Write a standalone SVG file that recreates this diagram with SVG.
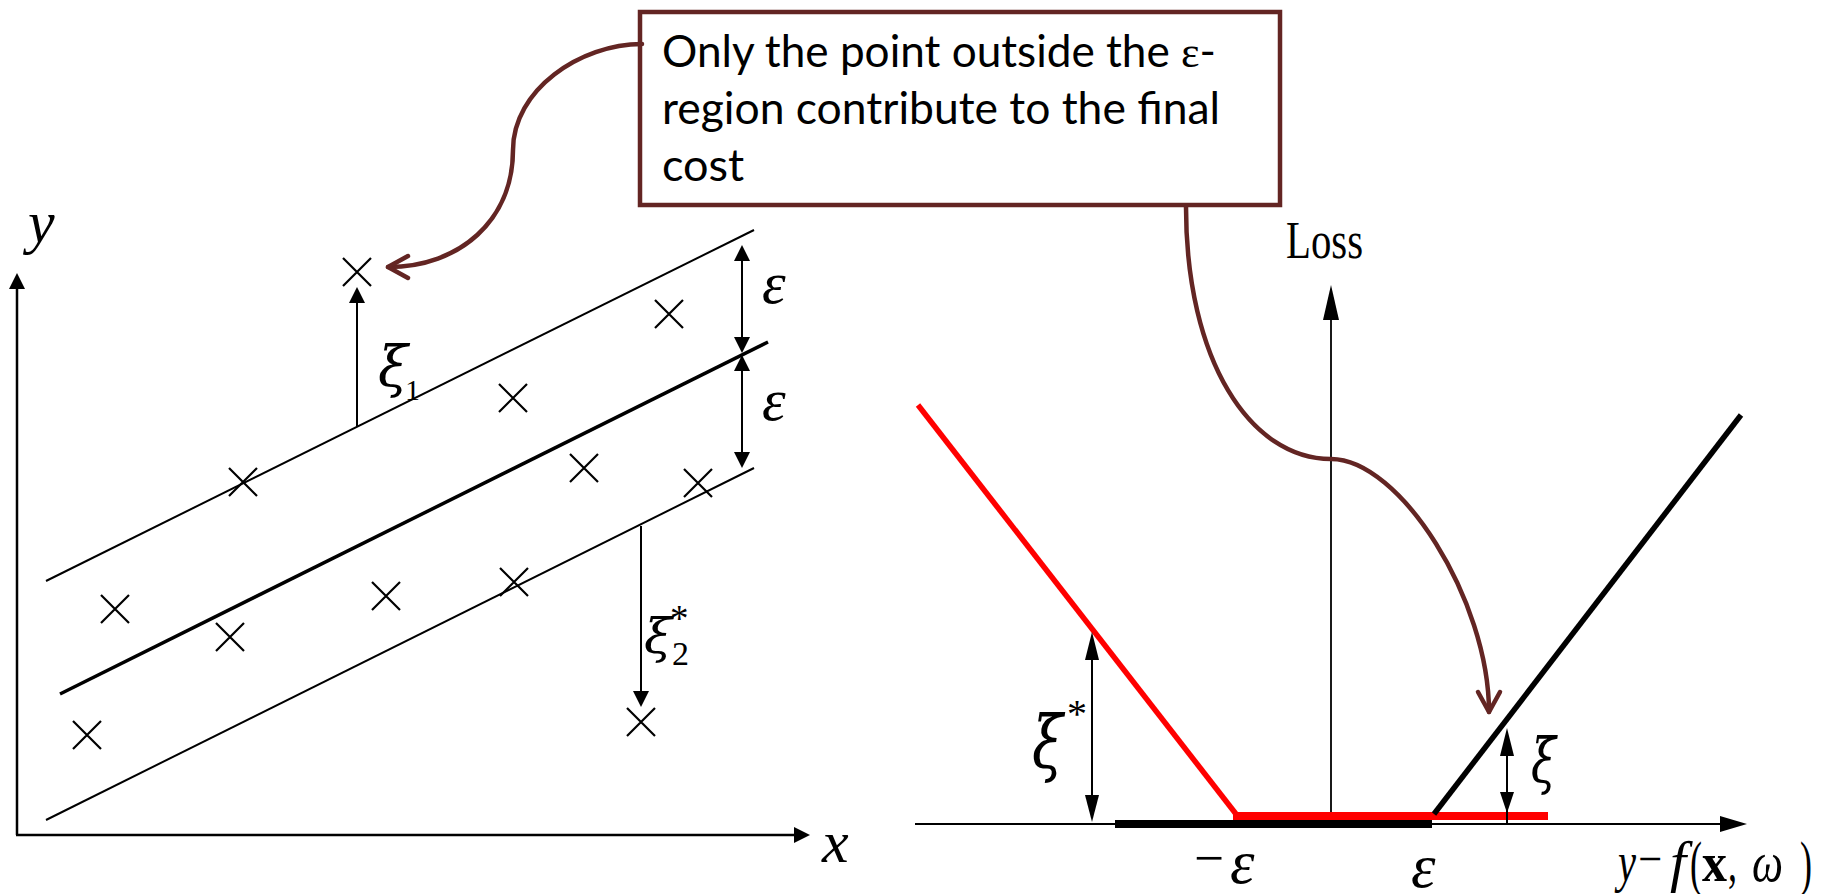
<svg xmlns="http://www.w3.org/2000/svg" width="1825" height="894" viewBox="0 0 1825 894">
  <style>
    .ax { stroke: #000; stroke-width: 2.5; fill: none; }
    .thin { stroke: #000; stroke-width: 2; fill: none; }
    .mid { stroke: #000; stroke-width: 3.5; fill: none; }
    .cross { stroke: #000; stroke-width: 2.2; fill: none; }
    .arr { stroke: #000; stroke-width: 2; fill: none; }
    .ah { fill: #000; stroke: none; }
    .math { font-family: "Liberation Serif", "DejaVu Serif", serif; font-style: italic; fill: #000; }
    .xi { font-family: "DejaVu Serif", "Liberation Serif", serif; font-style: italic; fill: #000; }
    .up { font-family: "Liberation Serif", "DejaVu Serif", serif; font-style: normal; fill: #000; }
    .callout { fill: #fff; stroke: #632523; stroke-width: 4.5; }
    .ctext { font-family: "Lato", "Liberation Sans", sans-serif; font-size: 45px; fill: #000; }
    .conn { fill: none; stroke: #632523; stroke-width: 4.5; stroke-linecap: round; }
    .red { stroke: #ff0000; fill: none; }
    .blk { stroke: #000; fill: none; }
  </style>
  <defs>
    <marker id="chev" markerUnits="userSpaceOnUse" viewBox="-26 -15 30 30" refX="0" refY="0" markerWidth="30" markerHeight="30" orient="auto" overflow="visible">
      <path d="M-20,-11 L0,0 L-20,11" fill="none" stroke="#632523" stroke-width="4.5" stroke-linecap="round" stroke-linejoin="round"/>
    </marker>
    <path id="xm" d="M-14,-14 L14,14 M-14,14 L14,-14"/>
  </defs>

  <!-- Left plot -->
  <g id="left-plot">
    <line class="ax" x1="17" y1="835" x2="17" y2="285"/>
    <polygon class="ah" points="17,273 9,289 25,289"/>
    <line class="ax" x1="16" y1="835" x2="797" y2="835"/>
    <polygon class="ah" points="810,835 794,827 794,843"/>
    <text class="math" x="28" y="242" font-size="60">y</text>
    <text class="math" x="822" y="862" font-size="60">x</text>

    <line class="thin" x1="46" y1="581" x2="754" y2="230"/>
    <line class="mid" x1="60" y1="694" x2="768" y2="342"/>
    <line class="thin" x1="46" y1="820" x2="754" y2="468"/>

    <g class="cross">
      <use href="#xm" x="357" y="272"/>
      <use href="#xm" x="669" y="314"/>
      <use href="#xm" x="513" y="398"/>
      <use href="#xm" x="584" y="468"/>
      <use href="#xm" x="698" y="483"/>
      <use href="#xm" x="243" y="482"/>
      <use href="#xm" x="115" y="609"/>
      <use href="#xm" x="230" y="637"/>
      <use href="#xm" x="386" y="596"/>
      <use href="#xm" x="514" y="582"/>
      <use href="#xm" x="87" y="735"/>
      <use href="#xm" x="641" y="722"/>
    </g>

    <!-- xi1 arrow -->
    <line class="arr" x1="357" y1="427" x2="357" y2="300"/>
    <polygon class="ah" points="357,287 349,303 365,303"/>
    <text class="xi" x="378" y="386" font-size="56" textLength="30" lengthAdjust="spacingAndGlyphs">ξ</text>
    <text class="up" x="405" y="400" font-size="30">1</text>

    <!-- xi2* arrow -->
    <line class="arr" x1="641" y1="526" x2="641" y2="694"/>
    <polygon class="ah" points="641,707 633,691 649,691"/>
    <text class="xi" x="644" y="653" font-size="48" textLength="28" lengthAdjust="spacingAndGlyphs">ξ</text>
    <text class="up" x="672" y="665" font-size="34">2</text>
    <text class="up" x="670" y="631" font-size="37">*</text>

    <!-- epsilon double arrows -->
    <line class="arr" x1="742" y1="258" x2="742" y2="340"/>
    <polygon class="ah" points="742,245 734,261 750,261"/>
    <polygon class="ah" points="742,353 734,337 750,337"/>
    <line class="arr" x1="742" y1="368" x2="742" y2="455"/>
    <polygon class="ah" points="742,355 734,371 750,371"/>
    <polygon class="ah" points="742,468 734,452 750,452"/>
    <text class="math" x="762" y="303" font-size="60">ε</text>
    <text class="math" x="762" y="420" font-size="60">ε</text>
  </g>

  <!-- Right plot -->
  <g id="right-plot">
    <line class="blk" stroke-width="1.8" x1="1331" y1="824" x2="1331" y2="305"/>
    <polygon class="ah" points="1331,285 1323,320 1339,320"/>
    <text class="up" x="1286" y="258" font-size="52" textLength="77" lengthAdjust="spacingAndGlyphs">Loss</text>

    <line class="blk" stroke-width="2" x1="915" y1="824" x2="1725" y2="824"/>
    <polygon class="ah" points="1747,824 1720,816 1720,832"/>

    <line class="blk" stroke-width="8" x1="1115" y1="824" x2="1432" y2="824"/>
    <line class="red" stroke-width="8" x1="1233" y1="816" x2="1548" y2="816"/>
    <line class="red" stroke-width="5.5" x1="918" y1="405" x2="1236" y2="814"/>
    <line class="blk" stroke-width="5.5" x1="1434" y1="814" x2="1741" y2="415"/>

    <!-- xi* arrow -->
    <line class="arr" stroke-width="1.6" x1="1092" y1="650" x2="1092" y2="805"/>
    <polygon class="ah" points="1092,632 1085,660 1099,660"/>
    <polygon class="ah" points="1092,822 1085,795 1099,795"/>
    <text class="xi" x="1032" y="768" font-size="72" textLength="31" lengthAdjust="spacingAndGlyphs">ξ</text>
    <text class="up" x="1067" y="727" font-size="40">*</text>

    <!-- xi arrow -->
    <line class="arr" stroke-width="1.6" x1="1507" y1="745" x2="1507" y2="824"/>
    <polygon class="ah" points="1507,728 1500,756 1514,756"/>
    <polygon class="ah" points="1507,813 1500,792 1514,792"/>
    <text class="xi" x="1531" y="782" font-size="62" textLength="25" lengthAdjust="spacingAndGlyphs">ξ</text>

    <!-- axis labels -->
    <text class="up" x="1194" y="876" font-size="54" textLength="30" lengthAdjust="spacingAndGlyphs">−</text>
    <text class="math" x="1230" y="883" font-size="62">ε</text>
    <text class="math" x="1411" y="887" font-size="62">ε</text>

    <text class="math" x="1618" y="881" font-size="56" textLength="18" lengthAdjust="spacingAndGlyphs">y</text>
    <text class="up" x="1638" y="875" font-size="48" textLength="24" lengthAdjust="spacingAndGlyphs">−</text>
    <text class="math" x="1670" y="881" font-size="58">f</text>
    <text class="up" x="1690" y="884" font-size="62" textLength="12" lengthAdjust="spacingAndGlyphs">(</text>
    <text class="up" x="1702" y="881" font-size="54" font-weight="bold" textLength="25" lengthAdjust="spacingAndGlyphs">x</text>
    <text class="up" x="1728" y="881" font-size="54" textLength="9" lengthAdjust="spacingAndGlyphs">,</text>
    <text class="math" x="1752" y="881" font-size="56" textLength="31" lengthAdjust="spacingAndGlyphs">ω</text>
    <text class="up" x="1800" y="884" font-size="62" textLength="12" lengthAdjust="spacingAndGlyphs">)</text>
  </g>

  <!-- Callout -->
  <g id="callout">
    <rect class="callout" x="640" y="12" width="640" height="193"/>
    <text class="ctext" x="662" y="67" textLength="554" lengthAdjust="spacingAndGlyphs">Only the point outside the <tspan font-family="Liberation Serif, serif">ε</tspan>-</text>
    <text class="ctext" x="662" y="124" textLength="558" lengthAdjust="spacingAndGlyphs">region contribute to the final</text>
    <text class="ctext" x="662" y="181">cost</text>
  </g>

  <!-- Connectors -->
  <g id="connectors">
    <path class="conn" d="M642,44 C580,44 513,90 513,150 C513,220 460,267 388,267" marker-end="url(#chev)"/>
    <path class="conn" d="M1186,207 C1186,360 1250,459 1331,459 C1400,459 1489,600 1489,712" marker-end="url(#chev)"/>
  </g>
</svg>
